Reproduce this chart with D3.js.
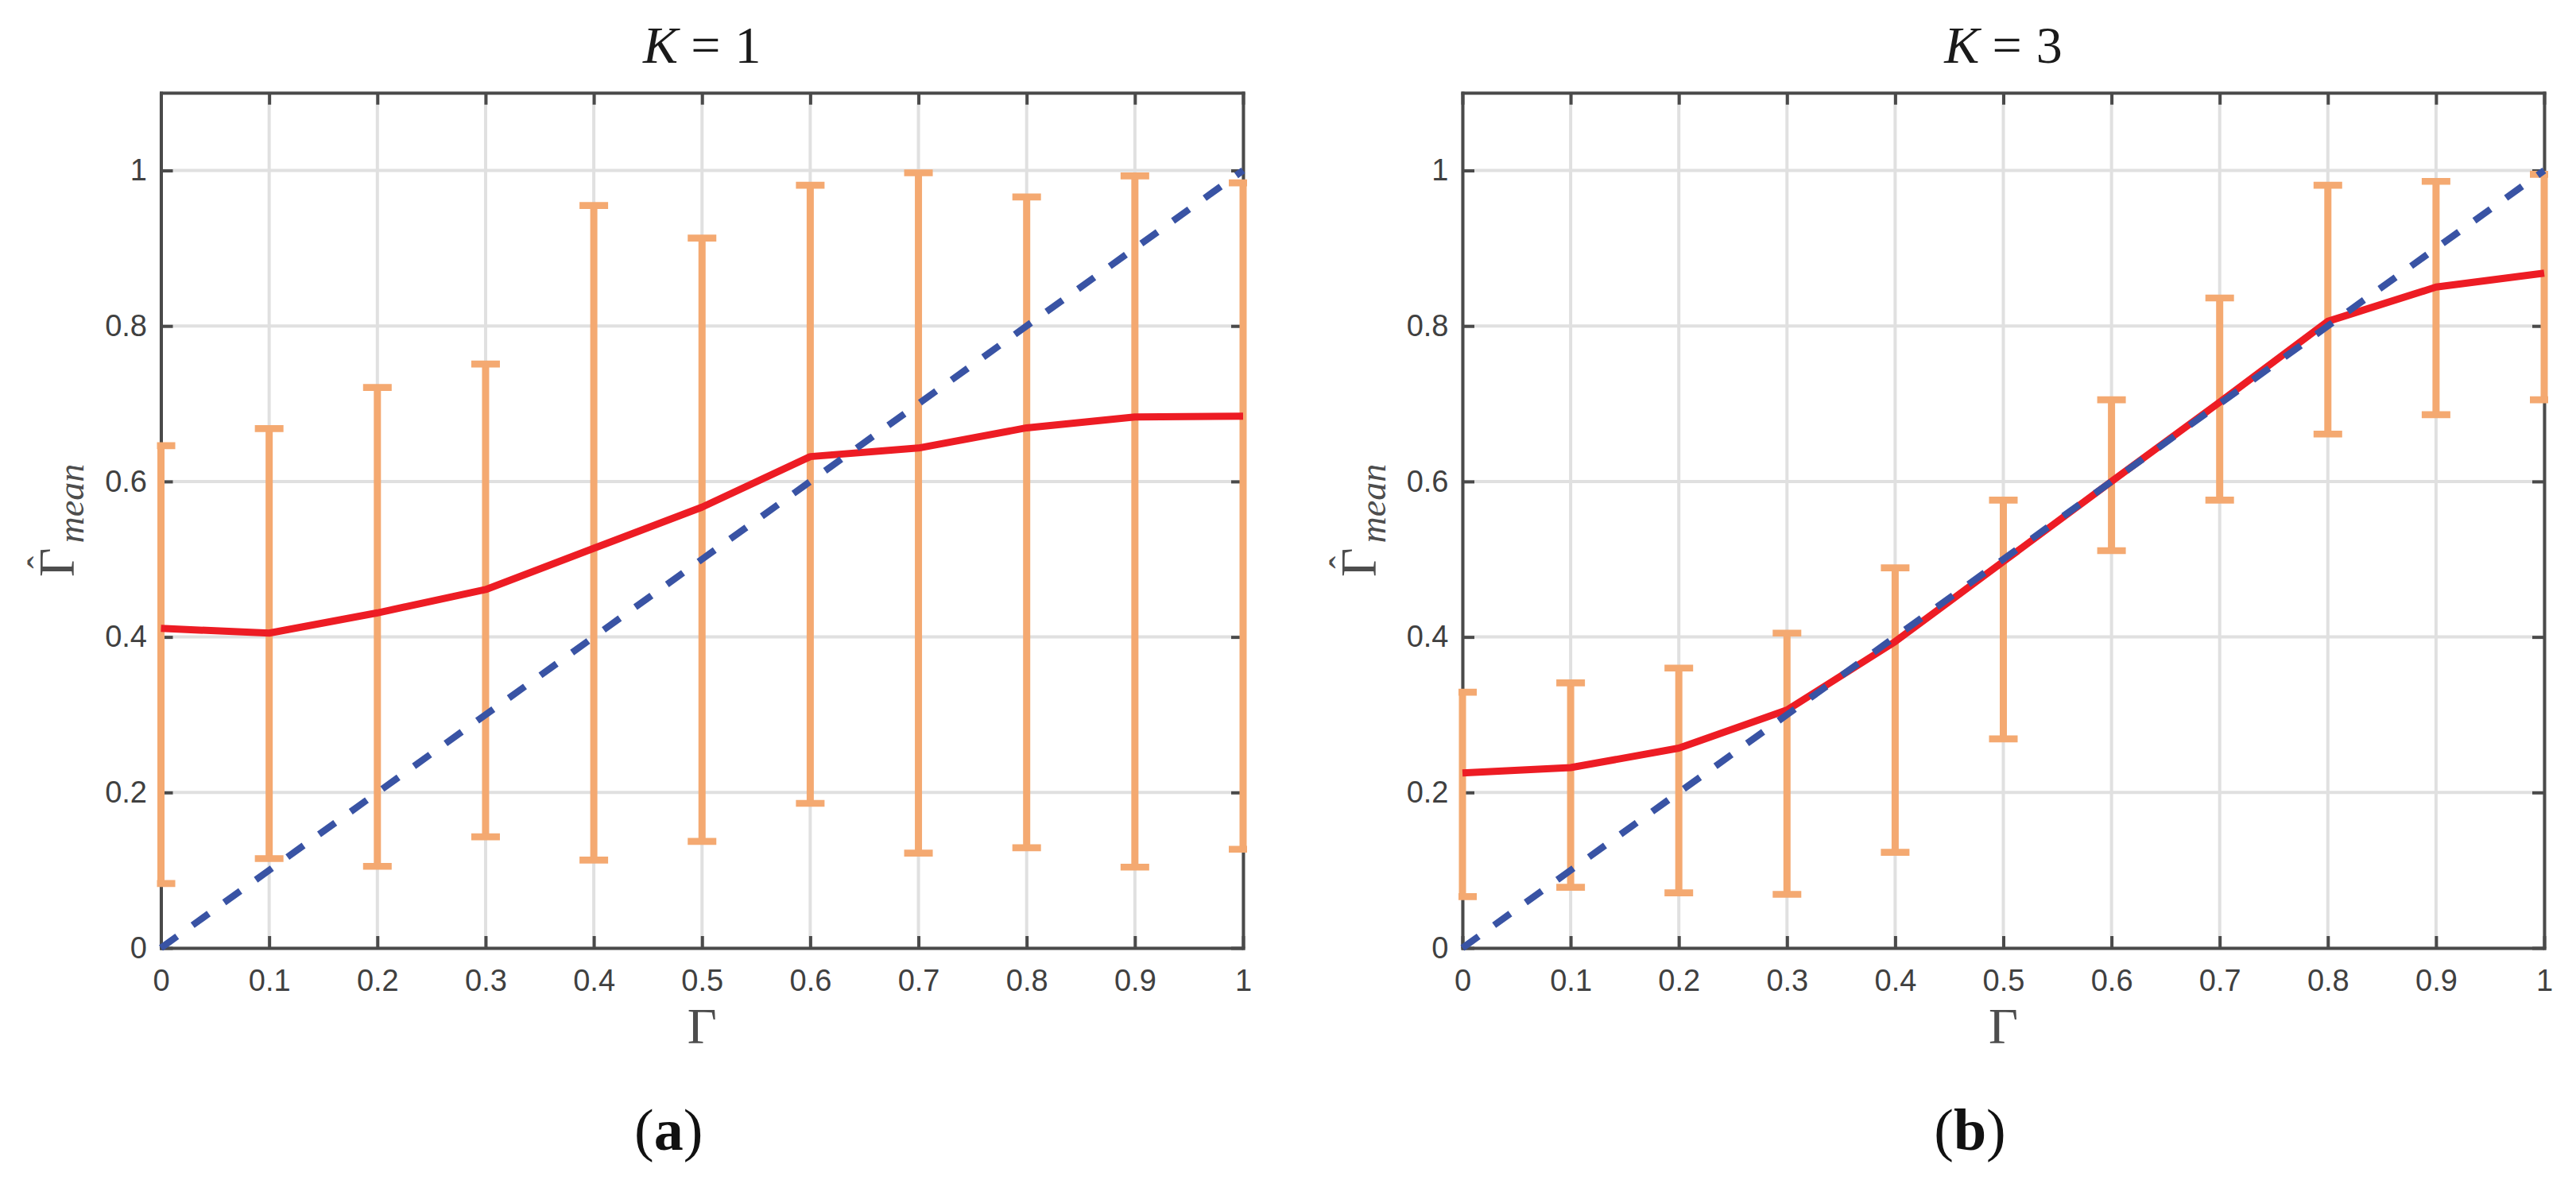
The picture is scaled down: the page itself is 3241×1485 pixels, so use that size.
<!DOCTYPE html>
<html><head><meta charset="utf-8">
<script src="https://cdn.jsdelivr.net/npm/d3@7"></script>
<style>body{margin:0;background:#fff} svg{display:block}</style>
</head><body>
<script>
// ---------- data ----------
const gammaValues = [0, 0.1, 0.2, 0.3, 0.4, 0.5, 0.6, 0.7, 0.8, 0.9, 1];
const meanK1 = [0.411, 0.405, 0.431, 0.461, 0.514, 0.567, 0.632, 0.643, 0.669, 0.683, 0.684];
const lowK1  = [0.083, 0.115, 0.105, 0.143, 0.113, 0.137, 0.186, 0.122, 0.129, 0.104, 0.127];
const highK1 = [0.646, 0.668, 0.721, 0.751, 0.955, 0.913, 0.981, 0.997, 0.966, 0.993, 0.984];
const meanK3 = [0.225, 0.232, 0.257, 0.306, 0.394, 0.497, 0.600, 0.702, 0.806, 0.850, 0.868];
const lowK3  = [0.066, 0.078, 0.071, 0.069, 0.123, 0.269, 0.511, 0.576, 0.661, 0.686, 0.705];
const highK3 = [0.329, 0.341, 0.360, 0.405, 0.489, 0.576, 0.705, 0.836, 0.981, 0.986, 0.995];
const identityX = [0, 1];
const identityY = [0, 1];
const xTicks = [0, 0.1, 0.2, 0.3, 0.4, 0.5, 0.6, 0.7, 0.8, 0.9, 1];
const xTickLabels = ["0", "0.1", "0.2", "0.3", "0.4", "0.5", "0.6", "0.7", "0.8", "0.9", "1"];
const yTicks = [0, 0.2, 0.4, 0.6, 0.8, 1];
const yTickLabels = ["0", "0.2", "0.4", "0.6", "0.8", "1"];
const kValues = ["1", "3"];
const panelLetters = ["a", "b"];
const xDomain = [0, 1];
const yDomain = [0, 1.1];

// ---------- layout / style ----------
const W = 3241, H = 1485;
const TOP = 116.7, BOTTOM = 1193;
const panels = [
  {x0: 202.5, x1: 1564, mean: meanK1, low: lowK1, high: highK1, k: kValues[0], letter: panelLetters[0]},
  {x0: 1840, x1: 3201, mean: meanK3, low: lowK3, high: highK3, k: kValues[1], letter: panelLetters[1]}
];
const AXIS = "#4a4a4a", GRID = "#e0e0e0", ORANGE = "#F4A971", RED = "#ED1C24", BLUE = "#3953A4";
const SERIF = "'Liberation Serif', 'DejaVu Serif', serif";

const svg = d3.select("body").append("svg").attr("width", W).attr("height", H)
  .attr("viewBox", `0 0 ${W} ${H}`);
svg.append("rect").attr("width", W).attr("height", H).attr("fill", "#fff");

panels.forEach((p, i) => {
  const x = d3.scaleLinear().domain(xDomain).range([p.x0, p.x1]);
  const y = d3.scaleLinear().domain(yDomain).range([BOTTOM, TOP]);
  const g = svg.append("g");
  const cx = (p.x0 + p.x1) / 2;
  const cy = (TOP + BOTTOM) / 2;

  // clip
  const clipId = "clip" + i;
  svg.append("clipPath").attr("id", clipId).append("rect")
    .attr("x", p.x0 - 5).attr("y", TOP - 5).attr("width", p.x1 - p.x0 + 10).attr("height", BOTTOM - TOP + 10);

  // grid
  const grid = g.append("g");
  grid.selectAll("line.v").data(xTicks).join("line").attr("class", "v")
    .attr("x1", d => x(d)).attr("x2", d => x(d)).attr("y1", TOP).attr("y2", BOTTOM)
    .attr("stroke", GRID).attr("stroke-width", 4);
  grid.selectAll("line.h").data(yTicks).join("line").attr("class", "h")
    .attr("x1", p.x0).attr("x2", p.x1).attr("y1", d => y(d)).attr("y2", d => y(d))
    .attr("stroke", GRID).attr("stroke-width", 4);

  // axes
  const styleAxis = sel => {
    sel.select(".domain").attr("stroke", AXIS).attr("stroke-width", 4).attr("stroke-linecap", "square");
    sel.selectAll(".tick line").attr("stroke", AXIS).attr("stroke-width", 4);
    sel.selectAll(".tick text").attr("fill", "#404040")
      .attr("font-family", "'Liberation Sans', Arial, sans-serif").attr("font-size", 38);
  };
  const axB = g.append("g").attr("transform", `translate(0,${BOTTOM})`)
    .call(d3.axisBottom(x).tickValues(xTicks).tickFormat((d, j) => xTickLabels[j])
      .tickSizeInner(-15).tickSizeOuter(0).tickPadding(27));
  styleAxis(axB);
  const axT = g.append("g").attr("transform", `translate(0,${TOP})`)
    .call(d3.axisTop(x).tickValues(xTicks).tickFormat("").tickSizeInner(-15).tickSizeOuter(0));
  styleAxis(axT);
  const axL = g.append("g").attr("transform", `translate(${p.x0},0)`)
    .call(d3.axisLeft(y).tickValues(yTicks).tickFormat((d, j) => yTickLabels[j])
      .tickSizeInner(-15).tickSizeOuter(0).tickPadding(17.5));
  styleAxis(axL);
  const axR = g.append("g").attr("transform", `translate(${p.x1},0)`)
    .call(d3.axisRight(y).tickValues(yTicks).tickFormat("").tickSizeInner(-15).tickSizeOuter(0));
  styleAxis(axR);

  // data layer
  const dl = g.append("g").attr("clip-path", `url(#${clipId})`);
  const eb = dl.append("g").attr("stroke", ORANGE);
  eb.selectAll("line.bar").data(gammaValues).join("line").attr("class", "bar")
    .attr("x1", d => x(d)).attr("x2", d => x(d))
    .attr("y1", (d, j) => y(p.low[j])).attr("y2", (d, j) => y(p.high[j]))
    .attr("stroke-width", 9);
  eb.selectAll("line.capLo").data(gammaValues).join("line").attr("class", "capLo")
    .attr("x1", d => x(d) - 18).attr("x2", d => x(d) + 18)
    .attr("y1", (d, j) => y(p.low[j])).attr("y2", (d, j) => y(p.low[j]))
    .attr("stroke-width", 8.7);
  eb.selectAll("line.capHi").data(gammaValues).join("line").attr("class", "capHi")
    .attr("x1", d => x(d) - 18).attr("x2", d => x(d) + 18)
    .attr("y1", (d, j) => y(p.high[j])).attr("y2", (d, j) => y(p.high[j]))
    .attr("stroke-width", 8.7);

  dl.append("path").datum(gammaValues.map((d, j) => [d, p.mean[j]]))
    .attr("d", d3.line().x(d => x(d[0])).y(d => y(d[1])))
    .attr("fill", "none").attr("stroke", RED).attr("stroke-width", 9).attr("stroke-linejoin", "round");

  dl.append("path").datum(identityX.map((d, j) => [d, identityY[j]]))
    .attr("d", d3.line().x(d => x(d[0])).y(d => y(d[1])))
    .attr("fill", "none").attr("stroke", BLUE).attr("stroke-width", 8.5).attr("stroke-dasharray", "25 24");

  // title
  const t = g.append("text").attr("x", cx).attr("y", 79).attr("text-anchor", "middle")
    .attr("font-family", SERIF).attr("font-size", 66).attr("fill", "#1a1a1a");
  t.append("tspan").attr("font-style", "italic").text("K");
  t.append("tspan").attr("dx", 16).text("=");
  t.append("tspan").attr("dx", 18).text(p.k);

  // x label
  g.append("text").attr("x", cx).attr("y", 1313).attr("text-anchor", "middle")
    .attr("font-family", SERIF).attr("font-size", 64).attr("fill", "#4d4d4d")
    .text("Γ");

  // y label
  const yl = g.append("g").attr("transform", `translate(${p.x0 - 109.5},${cy}) rotate(-90)`);
  const ylt = yl.append("text").attr("x", 0).attr("y", 0).attr("text-anchor", "middle")
    .attr("font-family", SERIF).attr("fill", "#4d4d4d");
  ylt.append("tspan").attr("font-size", 63).text("Γ");
  ylt.append("tspan").attr("font-size", 46).attr("font-style", "italic").attr("dx", 6).attr("dy", 12).text("mean");
  const ext = ylt.node().getExtentOfChar(0);
  yl.append("text").attr("x", ext.x + ext.width / 2).attr("y", -24).attr("text-anchor", "middle")
    .attr("font-family", SERIF).attr("font-size", 48).attr("fill", "#4d4d4d")
    .text("ˆ");

  // panel letter
  const pl = g.append("text").attr("x", cx - 42).attr("y", 1447).attr("text-anchor", "middle")
    .attr("font-family", SERIF).attr("font-size", 74).attr("fill", "#111");
  pl.append("tspan").text("(");
  pl.append("tspan").attr("font-weight", "bold").text(p.letter);
  pl.append("tspan").text(")");
});
</script>
</body></html>
